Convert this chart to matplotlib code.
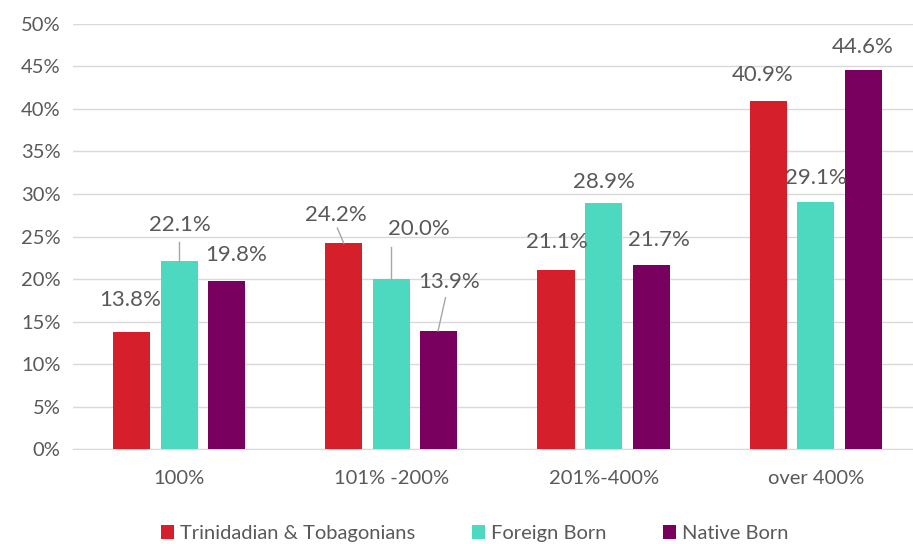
import numpy as np
import matplotlib.pyplot as plt

plt.rcParams['font.family'] = ['Lato', 'DejaVu Sans']

categories = ["100%", "101% -200%", "201%-400%", "over 400%"]
series_names = ["Trinidadian & Tobagonians", "Foreign Born", "Native Born"]
trinidad = [13.8, 24.2, 21.1, 40.9]
foreign = [22.1, 20.0, 28.9, 29.1]
native = [19.8, 13.9, 21.7, 44.6]
colors = ["#D51F2A", "#4DD8C0", "#7A0060"]

# label positions (data coords) and whether a leader line is drawn
label_pos = [
    [(-0.23, 17.5), (0.74, 27.5), (1.78, 24.4), (2.75, 44.0)],
    [(0.005, 26.3), (1.13, 25.9), (2.0, 31.4), (3.0, 31.9)],
    [(0.27, 22.8), (1.27, 19.7), (2.26, 24.6), (3.22, 47.3)],
]
leaders = {(0, 1): ((0.776, 24.2), (0.745, 26.0)),
           (1, 0): ((0.0, 22.1), (0.0, 24.3)),
           (1, 1): ((1.0, 20.0), (1.0, 23.8)),
           (2, 1): ((1.22, 13.9), (1.255, 17.8))}

fig = plt.figure(figsize=(9.13, 5.44), dpi=100)
ax = fig.add_axes([0.08, 0.1746, 0.92, 0.7813])

x = np.arange(len(categories))
w = 0.175
step = 0.224
grey = "#595959"
for i, (vals, c, name) in enumerate(zip([trinidad, foreign, native], colors, series_names)):
    ax.bar(x + (i - 1) * step, vals, width=w, color=c, label=name, zorder=3)
    for j, v in enumerate(vals):
        lx, ly = label_pos[i][j]
        ax.text(lx, ly, "%.1f%%" % v, ha="center", va="center", fontsize=16, color=grey, zorder=4)
        if (i, j) in leaders:
            (x0, y0), (x1, y1) = leaders[(i, j)]
            ax.plot([x0, x1], [y0, y1], color="#A6A6A6", lw=1, zorder=4)

ax.set_xlim(-0.5, 3.458)
ax.set_ylim(0, 50)
ax.set_yticks(np.arange(0, 51, 5))
ax.set_yticklabels(["%d%%" % t for t in range(0, 51, 5)])
ax.set_xticks(x)
ax.set_xticklabels(categories)
ax.yaxis.grid(True, color="#D9D9D9", lw=1, zorder=0)
for s in ["top", "right", "left"]:
    ax.spines[s].set_visible(False)
ax.spines["bottom"].set_color("#D9D9D9")
ax.tick_params(axis="both", length=0, colors=grey, labelsize=14.5)
ax.tick_params(axis="x", pad=15)
ax.tick_params(axis="y", pad=9)

fig.legend(loc="lower center", bbox_to_anchor=(0.52, -0.03), ncol=3, frameon=False,
           fontsize=14.5, handlelength=0.65, handleheight=0.65, handletextpad=0.3,
           columnspacing=2.8, labelcolor=grey)

fig.savefig("out.png", dpi=100)
